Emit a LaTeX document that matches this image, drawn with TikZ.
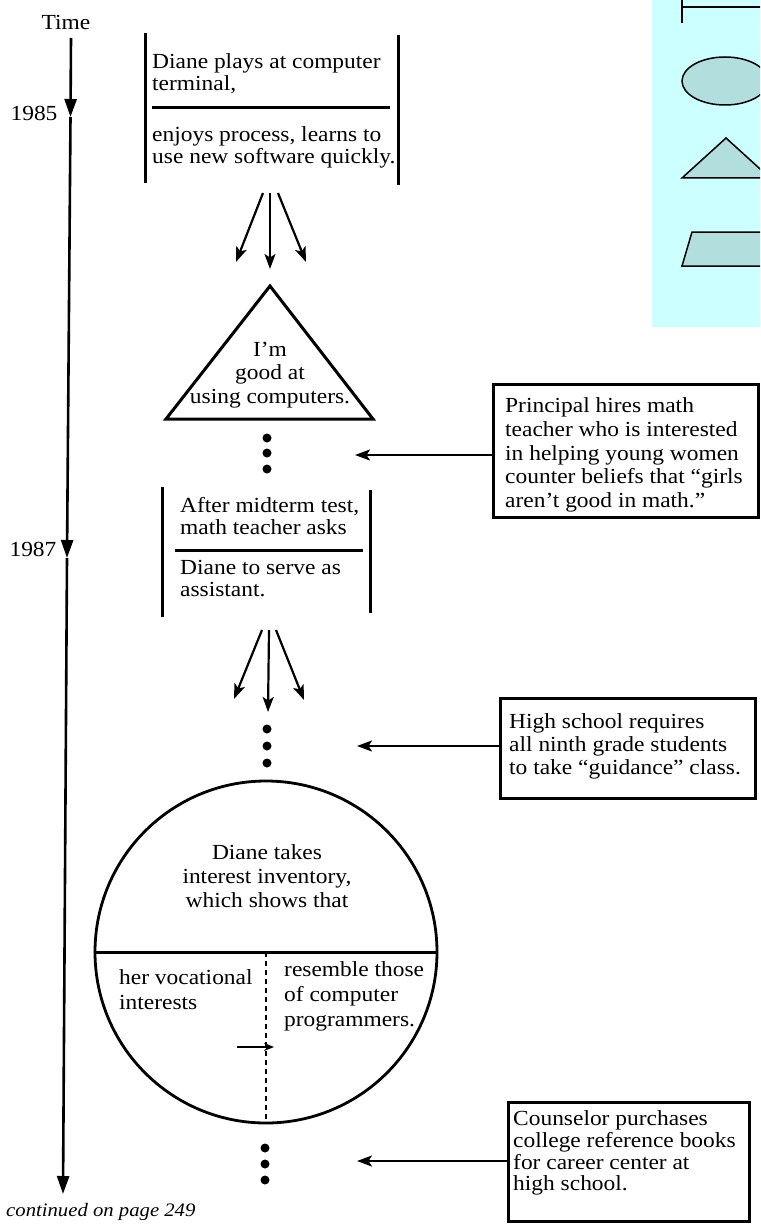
\documentclass[tikz,border=0pt]{standalone}
\usepackage{fontspec}
\setmainfont[FakeStretch=1.09]{Liberation Serif}
\usetikzlibrary{arrows.meta}
\definecolor{panelcyan}{HTML}{CCFFFF}
\definecolor{shapefill}{HTML}{B3DEDE}
\newcommand\bodyfont[1]{\fontsize{21.5}{#1}\selectfont}
\begin{document}
\begin{tikzpicture}[x=1pt,y=-1pt,
  bar/.style={line width=3pt},
  box/.style={draw, line width=2.8pt, inner sep=0pt},
  txt/.style={inner sep=0pt, align=left, font=\bodyfont{22pt}},
  conn/.style={line width=2.2pt, -{Stealth[length=15pt,width=11pt,inset=3.5pt]}},
  axis/.style={line width=2.6pt, -{Triangle[length=18pt,width=12pt]}},
  dot/.style={circle, fill, inner sep=0pt, minimum size=9pt},
  panelshape/.style={line width=1.5pt, fill=shapefill}]
\useasboundingbox (0,0) rectangle (760,1225);
\clip (0,0) rectangle (760,1225);

% legend panel
\begin{scope}
\clip (652,0) rectangle (760,327);
\fill[panelcyan] (652,0) rectangle (760,327);
\draw[line width=2.8pt] (682,0) -- (682,23);
\draw[line width=2.8pt] (682,7) -- (770,7);
\draw[panelshape] (725,81) ellipse [x radius=43, y radius=24];
\draw[panelshape] (726,138) -- (682,178) -- (770,178) -- cycle;
\draw[panelshape] (692,232) -- (775,232) -- (765,266) -- (682,266) -- cycle;
\end{scope}

% time axis
\node[font=\bodyfont{22pt}, inner sep=0pt] (time) at (66,22) {Time};
\coordinate (axTop) at (71,38);
\coordinate (ax85) at (70.5,117);
\coordinate (ax87) at (67,558);
\coordinate (axBot) at (63,1194);
\draw[axis] (axTop) -- (ax85);
\draw[axis] (ax85) -- (ax87);
\draw[axis] (ax87) -- (axBot);
\node[font=\bodyfont{22pt}, inner sep=0pt] (y85) at (34,113) {1985};
\node[font=\bodyfont{22pt}, inner sep=0pt] (y87) at (33,549) {1987};
\node[font=\itshape\fontsize{19}{20}\selectfont, inner sep=0pt, anchor=west] (cont) at (6,1212) {continued on page 249};

% box 1
\coordinate (b1tl) at (145,33); \coordinate (b1bl) at (145,183);
\coordinate (b1tr) at (398,35); \coordinate (b1br) at (398,185);
\coordinate (b1dl) at (152,108); \coordinate (b1dr) at (390,108);
\draw[bar] (b1tl) -- (b1bl);
\draw[bar] (b1tr) -- (b1br);
\draw[bar] (b1dl) -- (b1dr);
\node[txt, anchor=west] (b1up) at (152,74) {Diane plays at computer\\terminal,};
\node[txt, anchor=west] (b1lo) at (152,147) {enjoys process, learns to\\use new software quickly.};

% arrows 1
\coordinate (a1s1) at (263,193); \coordinate (a1e1) at (236,262);
\coordinate (a1s2) at (270,193); \coordinate (a1e2) at (270,269);
\coordinate (a1s3) at (278,193); \coordinate (a1e3) at (306,262);
\draw[conn] (a1s1) -- (a1e1);
\draw[conn] (a1s2) -- (a1e2);
\draw[conn] (a1s3) -- (a1e3);

% triangle
\coordinate (triA) at (270,286); \coordinate (triL) at (166,419); \coordinate (triR) at (373,419);
\draw[bar] (triA) -- (triL) -- (triR) -- cycle;
\node[txt, align=center, font=\bodyfont{23.5pt}] (tritext) at (270,375) {I'm\\good at\\using computers.};

% dots 1 and principal box
\node[dot] (d11) at (267,438) {};
\node[dot] (d12) at (267,453) {};
\node[dot] (d13) at (267,469) {};
\node[box, minimum width=265pt, minimum height=133pt, anchor=north west] (pbox) at (492,383) {};
\node[txt, anchor=west, font=\bodyfont{23.7pt}] (ptext) at (505,455) {Principal hires math\\teacher who is interested\\in helping young women\\counter beliefs that “girls\\aren’t good in math.”};
\coordinate (pArr) at (355,455);
\draw[conn] (pbox.west |- pArr) -- (pArr);

% box 2
\coordinate (b2tl) at (162,487); \coordinate (b2bl) at (162,617);
\coordinate (b2tr) at (370,490); \coordinate (b2br) at (370,613);
\coordinate (b2dl) at (175,550); \coordinate (b2dr) at (363,550);
\draw[bar] (b2tl) -- (b2bl);
\draw[bar] (b2tr) -- (b2br);
\draw[bar] (b2dl) -- (b2dr);
\node[txt, anchor=west] (b2up) at (180,516) {After midterm test,\\math teacher asks};
\node[txt, anchor=west] (b2lo) at (180,579) {Diane to serve as\\assistant.};

% arrows 2
\coordinate (a2s1) at (262,630); \coordinate (a2e1) at (234,699);
\coordinate (a2s2) at (269,630); \coordinate (a2e2) at (268,712);
\coordinate (a2s3) at (276,630); \coordinate (a2e3) at (304,700);
\draw[conn] (a2s1) -- (a2e1);
\draw[conn] (a2s2) -- (a2e2);
\draw[conn] (a2s3) -- (a2e3);

% dots 2 and high school box
\node[dot] (d21) at (267,729) {};
\node[dot] (d22) at (267,746) {};
\node[dot] (d23) at (267,763) {};
\node[box, minimum width=255pt, minimum height=100pt, anchor=north west] (hbox) at (499,697) {};
\node[txt, anchor=west, font=\bodyfont{23pt}] (htext) at (509,746) {High school requires\\all ninth grade students\\to take “guidance” class.};
\coordinate (hArr) at (357,746);
\draw[conn] (hbox.west |- hArr) -- (hArr);

% circle
\node[circle, draw, line width=2.8pt, minimum size=342pt, inner sep=0pt] (circ) at (266,952) {};
\draw[bar] (circ.west) -- (circ.east);
\draw[line width=2.5pt, dash pattern=on 5pt off 4pt] (circ.center) -- (circ.south);
\coordinate (sa1) at (237,1047); \coordinate (sa2) at (274,1047);
\draw[line width=1.6pt, -{Stealth[length=10pt,width=8pt]}] (sa1) -- (sa2);
\node[txt, align=center, font=\bodyfont{24pt}] (ctop) at (267,876) {Diane takes\\interest inventory,\\which shows that};
\node[txt, anchor=west, font=\bodyfont{25pt}] (cl) at (119,990) {her vocational\\interests};
\node[txt, anchor=west, font=\bodyfont{25pt}] (cr) at (284,996) {resemble those\\of computer\\programmers.};

% dots 3 and counselor box
\node[dot] (d31) at (265,1148) {};
\node[dot] (d32) at (265,1164) {};
\node[dot] (d33) at (265,1180) {};
\node[box, minimum width=241pt, minimum height=119pt, anchor=north west] (cbox) at (507,1101) {};
\node[txt, anchor=west, font=\bodyfont{21.7pt}] (ctext) at (513,1153) {Counselor purchases\\college reference books\\for career center at\\high school.};
\coordinate (cArr) at (357,1161);
\draw[conn] (cbox.west |- cArr) -- (cArr);
\end{tikzpicture}
\end{document}
